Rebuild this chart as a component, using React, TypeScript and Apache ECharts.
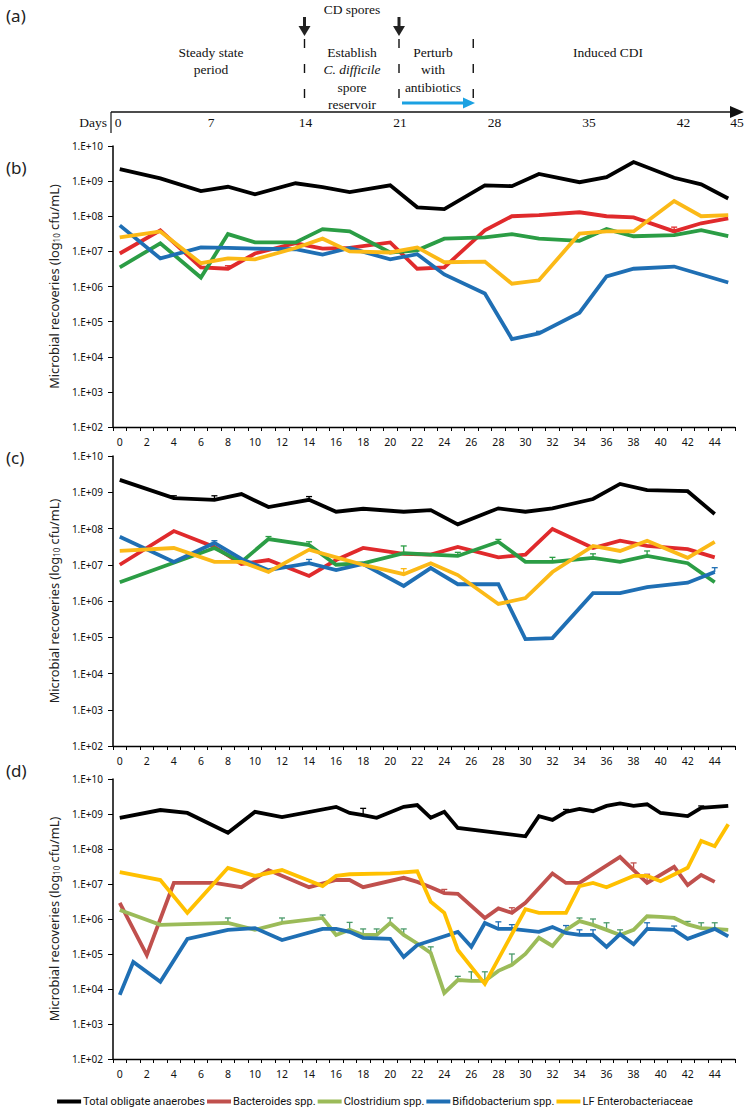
import React, { useEffect, useRef } from "react";
import * as echarts from "echarts";

// ---------- categories ----------
const DAY_CATEGORIES = [
  "0","1","2","3","4","5","6","7","8","9","10","11","12","13","14","15",
  "16","17","18","19","20","21","22","23","24","25","26","27","28","29","30",
  "31","32","33","34","35","36","37","38","39","40","41","42","43","44","45",
];
const SERIES_NAMES = [
  "Total obligate anaerobes",
  "Bacteroides spp.",
  "Clostridium spp.",
  "Bifidobacterium spp.",
  "LF Enterobacteriaceae",
];
const COLORS_BC = ["#000000", "#e02a2c", "#2b9d45", "#1f6fb4", "#fbb917"];
const COLORS_D = ["#000000", "#c0504d", "#9bbb59", "#1f6fb4", "#ffc000"];

// ---------- panel (b) ----------
const DAYS_B = [0, 3, 6, 8, 10, 13, 15, 17, 20, 22, 24, 27, 29, 31, 34, 36, 38, 41, 43, 45];
const B_TOTAL = [2.2e9, 1.2e9, 5.2e8, 6.9e8, 4.2e8, 8.7e8, 6.8e8, 4.9e8, 7.6e8, 1.8e8, 1.6e8, 7.6e8, 7.2e8, 1.6e9, 9.3e8, 1.3e9, 3.5e9, 1.25e9, 8.1e8, 3.2e8];
const B_BACT = [8.7e6, 4.0e7, 3.5e6, 3.2e6, 8.7e6, 1.7e7, 1.2e7, 1.25e7, 1.8e7, 3.2e6, 3.5e6, 4.0e7, 1.0e8, 1.07e8, 1.3e8, 1.0e8, 9.3e7, 3.7e7, 6.3e7, 8.7e7];
const B_CLOS = [3.5e6, 1.7e7, 1.8e6, 3.1e7, 1.8e7, 1.8e7, 4.3e7, 3.7e7, 9.3e6, 1.07e7, 2.3e7, 2.5e7, 3.1e7, 2.3e7, 2.0e7, 4.3e7, 2.7e7, 2.9e7, 4.0e7, 2.7e7];
const B_BIFI = [5.5e7, 6.3e6, 1.3e7, 1.25e7, 1.2e7, 1.15e7, 8.1e6, 1.25e7, 5.9e6, 8.3e6, 2.2e6, 6.3e5, 3.2e4, 4.6e4, 1.8e5, 1.95e6, 3.2e6, 3.7e6, 2.2e6, 1.3e6];
const B_ENTE = [2.5e7, 3.7e7, 4.6e6, 6.3e6, 5.9e6, 1.25e7, 2.3e7, 1.0e7, 9.3e6, 1.3e7, 4.9e6, 5.1e6, 1.2e6, 1.5e6, 3.2e7, 3.7e7, 3.7e7, 2.7e8, 1.0e8, 1.07e8];
// error-bar tops [day, upper]
const B_ERR_BACT = [[41, 4.9e7], [8, 3.9e6]];
const B_ERR_BIFI = [[31, 5.3e4]];

// ---------- panel (c) ----------
const DAYS_C = [0, 4, 7, 9, 11, 14, 16, 18, 21, 23, 25, 28, 30, 32, 35, 37, 39, 42, 44];
const C_TOTAL = [2.2e9, 6.9e8, 6.2e8, 8.9e8, 3.9e8, 6.2e8, 2.9e8, 3.5e8, 2.9e8, 3.2e8, 1.3e8, 3.6e8, 2.9e8, 3.6e8, 6.5e8, 1.7e9, 1.15e9, 1.07e9, 2.5e8];
const C_BACT = [1.0e7, 8.5e7, 3.1e7, 1.05e7, 1.35e7, 4.9e6, 1.35e7, 2.9e7, 2.0e7, 1.9e7, 3.1e7, 1.6e7, 1.9e7, 9.7e7, 2.9e7, 4.6e7, 3.3e7, 2.7e7, 1.6e7];
const C_CLOS = [3.3e6, null, 2.9e7, 1.2e7, 5.1e7, 3.5e7, 1.0e7, 1.1e7, 2.1e7, 1.9e7, 1.75e7, 4.3e7, 1.2e7, 1.2e7, 1.55e7, 1.2e7, 1.75e7, 1.1e7, 3.3e6];
const C_BIFI = [5.9e7, 1.2e7, 4.0e7, 1.45e7, 7.1e6, 1.1e7, 7.1e6, 1.05e7, 2.6e6, 8.1e6, 2.9e6, 2.9e6, 8.9e4, 9.5e4, 1.65e6, 1.65e6, 2.4e6, 3.2e6, 6.3e6];
const C_ENTE = [2.4e7, 2.9e7, 1.2e7, 1.2e7, 6.3e6, 2.6e7, 1.6e7, 1.0e7, 5.5e6, 1.1e7, 5.2e6, 8.3e5, 1.2e6, 6.3e6, 3.3e7, 2.4e7, 4.6e7, 1.55e7, 4.3e7];
const C_ERR_TOTAL = [[4, 8.0e8], [7, 8.0e8], [14, 7.6e8]];
const C_ERR_CLOS = [[11, 6.0e7], [14, 4.3e7], [21, 3.3e7], [25, 2.2e7], [28, 5.0e7], [32, 1.6e7], [35, 2.0e7], [39, 2.4e7]];
const C_ERR_BIFI = [[7, 4.6e7], [14, 1.4e7], [44, 8.3e6]];
const C_ERR_ENTE = [[21, 7.8e6]];

// ---------- panel (d) : [day, cfu/mL] ----------
const D_TOTAL = [[0, 7.7e8], [3, 1.3e9], [5, 1.07e9], [8, 2.9e8], [10, 1.15e9], [12, 8.2e8], [16, 1.6e9], [17, 1.07e9], [18, 9.3e8], [19, 7.8e8], [21, 1.6e9], [22, 1.8e9], [23, 7.8e8], [24, 1.15e9], [25, 4.0e8], [30, 2.3e8], [31, 8.7e8], [32, 6.8e8], [33, 1.15e9], [34, 1.4e9], [35, 1.2e9], [36, 1.7e9], [37, 2.0e9], [38, 1.7e9], [39, 1.9e9], [40, 1.07e9], [42, 8.7e8], [43, 1.5e9], [45, 1.7e9]];
const D_BACT = [[0, 2.9e6], [2, 9.3e4], [4, 1.07e7], [7, 1.07e7], [9, 8.1e6], [11, 2.5e7], [14, 8.1e6], [16, 1.3e7], [17, 1.3e7], [18, 8.1e6], [21, 1.5e7], [22, 1.15e7], [23, 8.1e6], [24, 5.5e6], [25, 5.2e6], [27, 1.07e6], [28, 2.0e6], [29, 1.5e6], [30, 2.9e6], [32, 2.0e7], [33, 1.07e7], [34, 1.07e7], [37, 5.9e7], [38, 2.5e7], [39, 1.07e7], [41, 3.1e7], [42, 9.3e6], [43, 1.8e7], [44, 1.15e7]];
const D_CLOS = [[0, 1.8e6], [3, 6.8e5], [8, 7.7e5], [10, 4.9e5], [12, 7.7e5], [15, 1.07e6], [16, 3.5e5], [17, 4.9e5], [18, 3.5e5], [19, 3.5e5], [20, 7.7e5], [21, 3.5e5], [22, 2.0e5], [23, 1.07e5], [24, 7.7e3], [25, 1.8e4], [26, 1.7e4], [27, 1.7e4], [28, 3.3e4], [29, 4.9e4], [30, 1.0e5], [31, 2.9e5], [32, 1.7e5], [33, 4.9e5], [34, 8.7e5], [35, 6.8e5], [36, 4.9e5], [37, 3.5e5], [38, 4.9e5], [39, 1.2e6], [40, 1.15e6], [41, 1.07e6], [42, 7.0e5], [43, 5.5e5], [44, 5.2e5], [45, 4.9e5]];
const D_BIFI = [[0, 6.8e3], [1, 5.9e4], [3, 1.6e4], [5, 2.7e5], [8, 4.9e5], [10, 5.5e5], [12, 2.5e5], [15, 5.2e5], [16, 5.2e5], [17, 4.3e5], [18, 2.9e5], [20, 2.7e5], [21, 8.2e4], [22, 1.8e5], [25, 4.3e5], [26, 1.6e5], [27, 7.7e5], [28, 5.2e5], [29, 5.2e5], [31, 4.3e5], [32, 5.9e5], [33, 4.0e5], [34, 3.5e5], [35, 3.5e5], [36, 1.6e5], [37, 3.7e5], [38, 1.9e5], [39, 5.2e5], [41, 4.9e5], [42, 2.7e5], [44, 5.2e5], [45, 3.2e5]];
const D_ENTE = [[0, 2.2e7], [3, 1.3e7], [5, 1.5e6], [8, 2.9e7], [10, 1.7e7], [12, 2.5e7], [15, 8.7e6], [16, 1.7e7], [17, 1.9e7], [20, 2.0e7], [22, 2.3e7], [23, 3.1e6], [24, 1.5e6], [25, 1.3e5], [27, 1.4e4], [30, 1.9e6], [31, 1.5e6], [33, 1.5e6], [34, 8.7e6], [35, 1.07e7], [36, 8.1e6], [38, 1.7e7], [39, 1.7e7], [40, 1.2e7], [42, 2.9e7], [43, 1.7e8], [44, 1.2e8], [45, 5.1e8]];
const D_ERR_TOTAL = [[18, 1.45e9], [33, 1.35e9], [43, 1.7e9]];
const D_ERR_BACT = [[24, 7.0e6], [29, 2.1e6], [38, 4.0e7], [39, 1.9e7]];
const D_ERR_CLOS = [[8, 1.07e6], [12, 1.07e6], [15, 1.3e6], [17, 8.0e5], [18, 5.2e5], [19, 5.2e5], [20, 1.07e6], [21, 5.2e5], [23, 1.6e5], [25, 2.3e4], [26, 3.1e4], [27, 3.1e4], [29, 1.0e5], [34, 1.07e6], [35, 1.0e6], [36, 7.8e5], [37, 4.9e5], [42, 8.5e5], [43, 7.8e5], [44, 7.8e5]];
const D_ERR_BIFI = [[28, 8.3e5], [29, 6.9e5], [33, 6.5e5], [34, 4.9e5], [35, 4.9e5], [39, 7.8e5], [41, 6.3e5]];

// ---------- panel (a) timeline ----------
const TIMELINE_TICKS = ["0", "7", "14", "21", "28", "35", "42", "45"];
const STAGE_TEXTS = [
  ["Steady state", "period"],
  ["Establish", "C. difficile", "spore", "reservoir"],
  ["Perturb", "with", "antibiotics"],
  ["Induced CDI"],
];

const SANS = "'Noto Sans', 'Open Sans', sans-serif";
const SERIF = "'Liberation Serif', 'DejaVu Serif', serif";

function zip(days: number[], vals: (number | null)[]) {
  const out: any[] = [];
  days.forEach((d, i) => {
    if (vals[i] != null) out.push([d, vals[i]]);
  });
  return out;
}

export default function App() {
  const ref = useRef<HTMLDivElement>(null);
  useEffect(() => {
    if (!ref.current) return;
    const chart = echarts.init(ref.current, null, { renderer: "svg" });

    const grids = [
      { left: 113, top: 146, width: 622, height: 281 },
      { left: 113, top: 456, width: 622, height: 290 },
      { left: 113, top: 779, width: 622, height: 280 },
    ];

    const xAxes = grids.map((_, i) => ({
      type: "category",
      gridIndex: i,
      data: DAY_CATEGORIES,
      boundaryGap: true,
      axisLine: { lineStyle: { color: "#000", width: 1.3 } },
      axisTick: { show: true, interval: 0, length: 4, lineStyle: { color: "#000" } },
      axisLabel: { interval: 1, fontSize: 10.5, color: "#111", fontFamily: SANS, margin: 9 },
      splitLine: { show: false },
    }));

    const yAxes = grids.map((_, i) => ({
      type: "log",
      logBase: 10,
      gridIndex: i,
      min: 1e2,
      max: 1e10,
      axisLine: { show: true, lineStyle: { color: "#000", width: 1.5 } },
      axisTick: { show: true, length: 5, lineStyle: { color: "#000" } },
      axisLabel: {
        fontSize: 10,
        color: "#111",
        fontFamily: SANS,
        margin: 10,
        formatter: (v: number) => {
          const e = Math.round(Math.log10(v));
          return "1.E+" + String(e).padStart(2, "0");
        },
      },
      splitLine: { show: false },
      name: "{t|Microbial recoveries (log}{s|10}{t| cfu/mL)}",
      nameLocation: "middle",
      nameGap: 50,
      nameTextStyle: {
        rich: {
          t: { fontSize: 12.8, fontFamily: SANS, color: "#222", lineHeight: 16, verticalAlign: "bottom" },
          s: { fontSize: 8, fontFamily: SANS, color: "#222", lineHeight: 12, verticalAlign: "bottom" },
        },
      },
    }));

    const mk = (name: string, data: any[], color: string, idx: number) => ({
      name,
      type: "line",
      xAxisIndex: idx,
      yAxisIndex: idx,
      data,
      showSymbol: false,
      symbol: "none",
      lineStyle: { color, width: 3.8, join: "miter" },
      itemStyle: { color },
      z: 3,
    });

    const errSeries = (name: string, lineData: any[], errs: number[][], color: string, idx: number) => {
      const data = errs
        .map(([d, up]) => {
          const pt = lineData.find((p: any) => p[0] === d);
          return pt ? [d, pt[1], up] : null;
        })
        .filter(Boolean);
      return {
        name,
        type: "custom",
        xAxisIndex: idx,
        yAxisIndex: idx,
        data,
        encode: { x: 0, y: [1, 2] },
        z: 2,
        silent: true,
        renderItem: (_p: any, api: any) => {
          const lo = api.coord([api.value(0), api.value(1)]);
          const hi = api.coord([api.value(0), api.value(2)]);
          const st = { stroke: color, lineWidth: 1.3 };
          return {
            type: "group",
            children: [
              { type: "line", shape: { x1: lo[0], y1: lo[1], x2: hi[0], y2: hi[1] }, style: st },
              { type: "line", shape: { x1: hi[0] - 3, y1: hi[1], x2: hi[0] + 3, y2: hi[1] }, style: st },
            ],
          };
        },
      };
    };

    const bData = [B_TOTAL, B_BACT, B_CLOS, B_BIFI, B_ENTE].map((v) => zip(DAYS_B, v));
    const cData = [C_TOTAL, C_BACT, C_CLOS, C_BIFI, C_ENTE].map((v) => zip(DAYS_C, v));
    const dData = [D_TOTAL, D_BACT, D_CLOS, D_BIFI, D_ENTE];
    const series: any[] = [];
    const order = [1, 2, 3, 4, 0];
    order.forEach((k) => series.push(mk(SERIES_NAMES[k], bData[k], COLORS_BC[k], 0)));
    order.forEach((k) => series.push(mk(SERIES_NAMES[k], cData[k], COLORS_BC[k], 1)));
    order.forEach((k) => series.push(mk(SERIES_NAMES[k], dData[k], COLORS_D[k], 2)));

    series.push(errSeries(SERIES_NAMES[1], bData[1], B_ERR_BACT, COLORS_BC[1], 0));
    series.push(errSeries(SERIES_NAMES[3], bData[3], B_ERR_BIFI, COLORS_BC[3], 0));
    series.push(errSeries(SERIES_NAMES[0], cData[0], C_ERR_TOTAL, COLORS_BC[0], 1));
    series.push(errSeries(SERIES_NAMES[2], cData[2], C_ERR_CLOS, COLORS_BC[2], 1));
    series.push(errSeries(SERIES_NAMES[3], cData[3], C_ERR_BIFI, COLORS_BC[3], 1));
    series.push(errSeries(SERIES_NAMES[4], cData[4], C_ERR_ENTE, COLORS_BC[4], 1));
    series.push(errSeries(SERIES_NAMES[0], dData[0], D_ERR_TOTAL, COLORS_D[0], 2));
    series.push(errSeries(SERIES_NAMES[1], dData[1], D_ERR_BACT, COLORS_D[1], 2));
    series.push(errSeries(SERIES_NAMES[2], dData[2], D_ERR_CLOS, "#4a9a6a", 2));
    series.push(errSeries(SERIES_NAMES[3], dData[3], D_ERR_BIFI, COLORS_D[3], 2));

    // ---- graphic: panel (a) timeline + panel letters ----
    const g: any[] = [];
    const txt = (text: string, x: number, y: number, font: any) =>
      g.push({
        type: "text",
        x,
        y,
        style: { text, align: "center", verticalAlign: "middle", fill: "#111", ...font },
      });
    const serif = { fontFamily: SERIF, fontSize: 13.5 };
    const dayX = (d: number) => (d === 45 ? 737 : 116.5 + 13.5 * d);

    [["(a)", 15], ["(b)", 167], ["(c)", 457], ["(d)", 770]].forEach(([t, y]) =>
      g.push({
        type: "text",
        x: 6,
        y: y as number,
        style: { text: t as string, align: "left", verticalAlign: "middle", fill: "#222", fontFamily: SANS, fontSize: 17 },
      })
    );

    g.push({ type: "line", shape: { x1: 111, y1: 112, x2: 734, y2: 112 }, style: { stroke: "#111", lineWidth: 1.4 } });
    g.push({ type: "polygon", shape: { points: [[730, 106], [744, 112], [730, 118]] }, style: { fill: "#111" } });
    g.push({ type: "line", shape: { x1: 111, y1: 112, x2: 111, y2: 133 }, style: { stroke: "#111", lineWidth: 1.2 } });
    g.push({
      type: "text",
      x: 107,
      y: 122,
      style: { text: "Days", align: "right", verticalAlign: "middle", fill: "#111", ...serif },
    });
    TIMELINE_TICKS.forEach((t) => txt(t, dayX(Number(t)) + (t === "0" ? 1.5 : 0), 122, serif));

    [14, 21, 26.5].forEach((d) =>
      g.push({
        type: "line",
        shape: { x1: dayX(d) - 1, y1: 39, x2: dayX(d) - 1, y2: 103 },
        style: { stroke: "#111", lineWidth: 1.4, lineDash: [9, 16] },
      })
    );
    txt("CD spores", 352, 9, serif);
    [14, 21].forEach((d) => {
      const x = dayX(d) - 1;
      g.push({ type: "line", shape: { x1: x, y1: 17, x2: x, y2: 28 }, style: { stroke: "#222", lineWidth: 3 } });
      g.push({ type: "polygon", shape: { points: [[x - 6, 26], [x + 6, 26], [x, 36]] }, style: { fill: "#222" } });
    });
    g.push({ type: "line", shape: { x1: 402, y1: 103, x2: 466, y2: 103 }, style: { stroke: "#1ba1e2", lineWidth: 3 } });
    g.push({ type: "polygon", shape: { points: [[463, 97.5], [475, 103], [463, 108.5]] }, style: { fill: "#1ba1e2" } });

    const stageX = [211, 352, 433, 608];
    STAGE_TEXTS.forEach((lines, si) =>
      lines.forEach((line, li) =>
        txt(line, stageX[si], 52 + li * 17.5, line === "C. difficile" ? { ...serif, fontStyle: "italic" } : serif)
      )
    );

    chart.setOption({
      animation: false,
      backgroundColor: "#fff",
      grid: grids,
      xAxis: xAxes,
      yAxis: yAxes,
      series,
      legend: {
        top: 1091,
        left: "center",
        itemWidth: 24,
        itemHeight: 4,
        itemGap: 2,
        icon: "rect",
        textStyle: { fontSize: 11.1, fontFamily: "Roboto, sans-serif", color: "#111", padding: [0, 0, 0, -3] },
        data: SERIES_NAMES.map((n, i) => ({ name: n, itemStyle: { color: COLORS_D[i] } })),
      },
      graphic: g,
    });
    return () => chart.dispose();
  }, []);

  return (
    <div
      ref={ref}
      style={{ position: "absolute", left: 0, top: 0, width: 750, height: 1109, background: "#fff" }}
    />
  );
}
